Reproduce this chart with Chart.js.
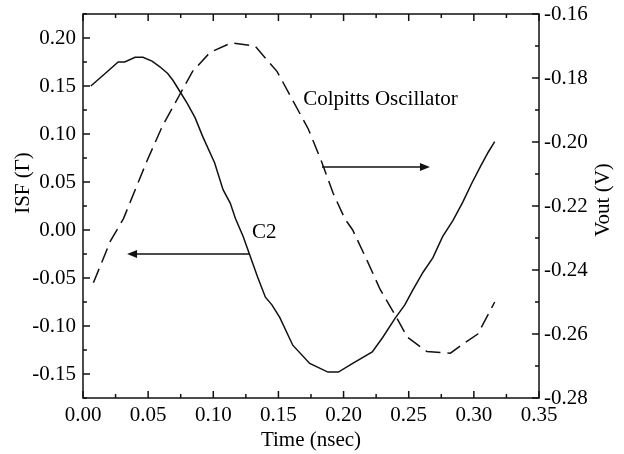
<!DOCTYPE html>
<html>
<head>
<meta charset="utf-8">
<script src="https://cdn.jsdelivr.net/npm/chart.js@4/dist/chart.umd.min.js"></script>
<style>
    html, body { margin: 0; padding: 0; background: #ffffff; }
    #wrap { width: 624px; height: 454px; }
</style>
</head>
<body>
<div id="wrap"><canvas id="isfChart" width="624" height="454"></canvas></div>
<script>
// ISF curve (solid, left axis)
const isfTime = [0.006, 0.017, 0.027, 0.032, 0.040, 0.046, 0.053, 0.059, 0.065, 0.069, 0.0745, 0.080, 0.086, 0.092,
    0.101, 0.1075, 0.113, 0.117, 0.123, 0.128, 0.134, 0.140, 0.145, 0.151, 0.161, 0.174, 0.188, 0.196, 0.207,
    0.222, 0.230, 0.2395, 0.247, 0.253, 0.261, 0.2685, 0.276, 0.284, 0.2915, 0.2985, 0.305, 0.311, 0.316];
const isfValues = [0.150, 0.163, 0.175, 0.175, 0.180, 0.180, 0.176, 0.170, 0.163, 0.156, 0.144, 0.132, 0.117, 0.097,
    0.070, 0.042, 0.028, 0.012, -0.007, -0.026, -0.049, -0.070, -0.078, -0.091, -0.120, -0.139, -0.148, -0.148, -0.139,
    -0.127, -0.112, -0.092, -0.078, -0.063, -0.044, -0.029, -0.007, 0.010, 0.029, 0.049, 0.066, 0.081, 0.092];

// Vout curve (dashed, right axis)
const voutTime = [0.008, 0.021, 0.031, 0.049, 0.061, 0.0745, 0.084, 0.0975, 0.114, 0.132, 0.149, 0.161, 0.173,
    0.183, 0.192, 0.201, 0.207, 0.218, 0.228, 0.2395, 0.249, 0.264, 0.282, 0.292, 0.303, 0.316];
const voutValues = [-0.244, -0.231, -0.224, -0.206, -0.195, -0.185, -0.178, -0.172, -0.169, -0.170, -0.178, -0.187,
    -0.196, -0.206, -0.216, -0.224, -0.2275, -0.237, -0.246, -0.254, -0.261, -0.2655, -0.266, -0.263, -0.260, -0.250];

// Tick labels
const timeTicks = [0.00, 0.05, 0.10, 0.15, 0.20, 0.25, 0.30, 0.35];
const isfTicks = [-0.15, -0.10, -0.05, 0.00, 0.05, 0.10, 0.15, 0.20];
const voutTicks = [-0.28, -0.26, -0.24, -0.22, -0.20, -0.18, -0.16];

const serif = '"Liberation Serif", "Times New Roman", serif';

// Annotations in data coordinates
const notes = [
    { text: 'Colpitts Oscillator', x: 0.169, y: -0.1866, axis: 'y2' },
    { text: 'C2', x: 0.1297, y: -0.003, axis: 'y' }
];
const arrows = [
    { from: 0.1834, to: 0.2663, y: -0.2078, axis: 'y2' },
    { from: 0.128, to: 0.0338, y: -0.025, axis: 'y' }
];

function drawTicks(ctx, scale, values, len, side, area) {
    values.forEach(v => {
        const p = scale.getPixelForValue(v);
        ctx.beginPath();
        if (side === 'bottom') { ctx.moveTo(p, area.bottom); ctx.lineTo(p, area.bottom - len); }
        if (side === 'top') { ctx.moveTo(p, area.top); ctx.lineTo(p, area.top + len); }
        if (side === 'left') { ctx.moveTo(area.left, p); ctx.lineTo(area.left + len, p); }
        if (side === 'right') { ctx.moveTo(area.right, p); ctx.lineTo(area.right - len, p); }
        ctx.stroke();
    });
}

function drawVerticalTitle(ctx, text, x, y) {
    ctx.save();
    ctx.translate(x, y);
    ctx.rotate(-Math.PI / 2);
    ctx.textAlign = 'center';
    ctx.textBaseline = 'middle';
    ctx.fillText(text, 0, 0);
    ctx.restore();
}

const framePlugin = {
    id: 'frame',
    afterDatasetsDraw(chart) {
        const ctx = chart.ctx;
        const a = chart.chartArea;
        const sx = chart.scales.x, sy = chart.scales.y, sy2 = chart.scales.y2;
        ctx.save();
        ctx.strokeStyle = '#111';
        ctx.lineWidth = 1.5;
        ctx.strokeRect(a.left, a.top, a.right - a.left, a.bottom - a.top);

        const xMinor = timeTicks.slice(0, -1).map(t => t + 0.025);
        const yMinor = [-0.175].concat(isfTicks.map(t => t + 0.025));
        const y2Minor = voutTicks.slice(0, -1).map(t => t + 0.01);
        drawTicks(ctx, sx, timeTicks, 7, 'bottom', a);
        drawTicks(ctx, sx, xMinor, 4, 'bottom', a);
        drawTicks(ctx, sx, timeTicks, 7, 'top', a);
        drawTicks(ctx, sx, xMinor, 4, 'top', a);
        drawTicks(ctx, sy, isfTicks, 7, 'left', a);
        drawTicks(ctx, sy, yMinor, 4, 'left', a);
        drawTicks(ctx, sy2, voutTicks, 7, 'right', a);
        drawTicks(ctx, sy2, y2Minor, 4, 'right', a);

        // arrows
        ctx.fillStyle = '#111';
        arrows.forEach(ar => {
            const ys = chart.scales[ar.axis];
            const x0 = sx.getPixelForValue(ar.from), x1 = sx.getPixelForValue(ar.to);
            const y = ys.getPixelForValue(ar.y);
            const dir = x1 > x0 ? 1 : -1;
            ctx.beginPath();
            ctx.moveTo(x0, y);
            ctx.lineTo(x1 - dir * 6, y);
            ctx.stroke();
            ctx.beginPath();
            ctx.moveTo(x1, y);
            ctx.lineTo(x1 - dir * 10, y - 4);
            ctx.lineTo(x1 - dir * 10, y + 4);
            ctx.closePath();
            ctx.fill();
        });

        // labels
        ctx.font = '21px ' + serif;
        ctx.textBaseline = 'middle';
        ctx.textAlign = 'left';
        notes.forEach(n => {
            const ys = chart.scales[n.axis];
            const x = sx.getPixelForValue(n.x), y = ys.getPixelForValue(n.y);
            const w = ctx.measureText(n.text).width;
            ctx.fillStyle = '#ffffff';
            ctx.fillRect(x - 3, y - 12, w + 6, 24);
            ctx.fillStyle = '#000000';
            ctx.fillText(n.text, x, y);
        });

        // axis titles, both reading bottom to top
        drawVerticalTitle(ctx, 'ISF (Γ)', 23, 183);
        drawVerticalTitle(ctx, 'Vout (V)', 603, 200);
        ctx.restore();
    }
};

const tickFont = { family: serif, size: 21 };

new Chart(document.getElementById('isfChart').getContext('2d'), {
    type: 'line',
    data: {
        datasets: [{
            label: 'ISF',
            data: isfTime.map((t, i) => ({ x: t, y: isfValues[i] })),
            borderColor: '#111111',
            borderWidth: 1.5,
            pointRadius: 0,
            tension: 0,
            yAxisID: 'y'
        }, {
            label: 'Vout',
            data: voutTime.map((t, i) => ({ x: t, y: voutValues[i] })),
            borderColor: '#111111',
            borderWidth: 1.5,
            borderDash: [15, 7],
            pointRadius: 0,
            tension: 0,
            yAxisID: 'y2'
        }]
    },
    options: {
        responsive: false,
        animation: false,
        layout: { padding: { top: 14, left: 0, right: 0, bottom: 0 } },
        plugins: { legend: { display: false }, tooltip: { enabled: false } },
        scales: {
            x: {
                type: 'linear',
                min: 0,
                max: 0.35,
                afterBuildTicks: s => { s.ticks = timeTicks.map(v => ({ value: v })); },
                afterFit: s => { s.height = 56; s.paddingLeft = 0; s.paddingRight = 0; },
                grid: { display: false, drawTicks: false },
                border: { display: false },
                ticks: { color: '#000', font: tickFont, padding: 5, maxRotation: 0,
                    callback: v => v.toFixed(2) },
                title: { display: true, text: 'Time (nsec)', color: '#000', font: tickFont,
                    padding: { top: 0, bottom: 1 } }
            },
            y: {
                position: 'left',
                min: -0.175,
                max: 0.225,
                afterBuildTicks: s => { s.ticks = isfTicks.map(v => ({ value: v })); },
                afterFit: s => { s.width = 83; s.paddingTop = 0; s.paddingBottom = 0; },
                grid: { display: false, drawTicks: false },
                border: { display: false },
                ticks: { color: '#000', font: tickFont, padding: 7,
                    callback: v => v.toFixed(2) }
            },
            y2: {
                position: 'right',
                min: -0.28,
                max: -0.16,
                afterBuildTicks: s => { s.ticks = voutTicks.map(v => ({ value: v })); },
                afterFit: s => { s.width = 85; s.paddingTop = 0; s.paddingBottom = 0; },
                grid: { display: false, drawTicks: false },
                border: { display: false },
                ticks: { color: '#000', font: tickFont, padding: 5,
                    callback: v => v.toFixed(2) }
            }
        }
    },
    plugins: [framePlugin]
});
</script>
</body>
</html>
